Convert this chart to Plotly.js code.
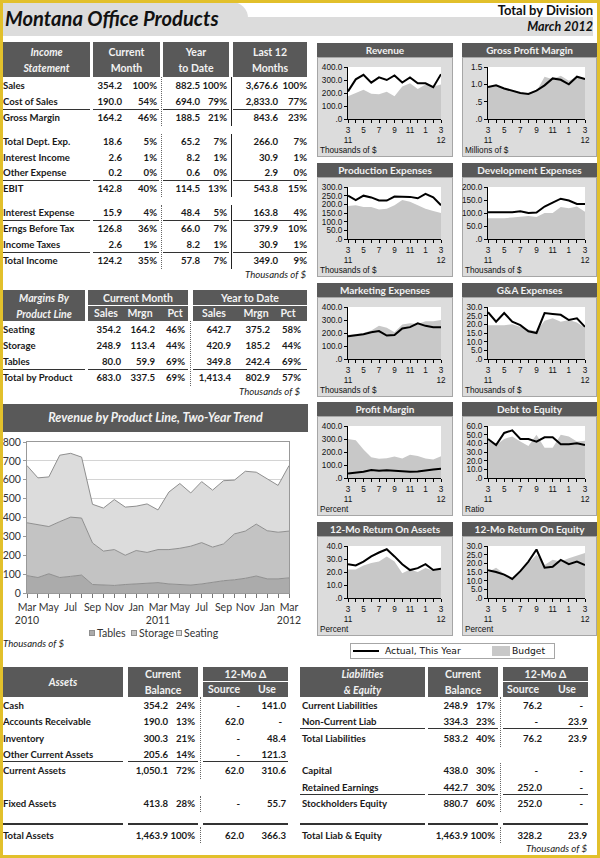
<!DOCTYPE html>
<html><head><meta charset="utf-8">
<script src="https://cdn.plot.ly/plotly-3.0.1.min.js"></script>
<style>
html,body{margin:0;padding:0;background:#fff;}
#page{position:relative;width:600px;height:858px;overflow:hidden;font-family:Lato,'Open Sans',sans-serif;color:#1a1a1a;}
.a{position:absolute;white-space:nowrap;}
.hdr{position:absolute;background:#595959;color:#f2f2f2;font-weight:bold;font-size:10.5px;text-align:center;display:flex;align-items:center;justify-content:center;line-height:16px;white-space:nowrap;}
</style></head><body><div id="page"></div>
<script>
// ---------------- DATA ----------------
const incomeLabels = ["Sales","Cost of Sales","Gross Margin","Total Dept. Exp.","Interest Income","Other Expense","EBIT","Interest Expense","Erngs Before Tax","Income Taxes","Total Income"];
const incomeCM     = [354.2,190.0,164.2,18.6,2.6,0.2,142.8,15.9,126.8,2.6,124.2];
const incomeCMPct  = [100,54,46,5,1,0,40,4,36,1,35];
const incomeYTD    = [882.5,694.0,188.5,65.2,8.2,0.6,114.5,48.4,66.0,8.2,57.8];
const incomeYTDPct = [100,79,21,7,1,0,13,5,7,1,7];
const incomeL12    = [3676.6,2833.0,843.6,266.0,30.9,2.9,543.8,163.8,379.9,30.9,349.0];
const incomeL12Pct = [100,77,23,7,1,0,15,4,10,1,9];

const productLines = ["Seating","Storage","Tables","Total by Product"];
const cmSales = [354.2,248.9,80.0,683.0];
const cmMrgn  = [164.2,113.4,59.9,337.5];
const cmPct   = [46,44,69,69];
const ytdSales = [642.7,420.9,349.8,1413.4];
const ytdMrgn  = [375.2,185.2,242.4,802.9];
const ytdPct   = [58,44,69,57];

const revMonths = ["Mar 2010","Apr 2010","May 2010","Jun 2010","Jul 2010","Aug 2010","Sep 2010","Oct 2010","Nov 2010","Dec 2010","Jan 2011","Feb 2011","Mar 2011","Apr 2011","May 2011","Jun 2011","Jul 2011","Aug 2011","Sep 2011","Oct 2011","Nov 2011","Dec 2011","Jan 2012","Feb 2012","Mar 2012"];
const revTickLabels = ["Mar<br>2010","","May","","Jul","","Sep","","Nov","","Jan","","Mar<br>2011","","May","","Jul","","Sep","","Nov","","Jan","","Mar<br>2012"];
const revTables  = [92,82,102,82,88,95,45,43,40,45,48,52,55,48,45,42,48,58,65,70,78,90,75,75,80];
const revStorage = [280,278,250,296,314,302,220,179,190,155,177,163,175,182,192,206,219,185,195,243,250,275,255,247,248];
const revSeating = [303,250,263,352,338,323,205,228,265,255,235,257,210,305,343,282,323,302,335,285,317,275,275,248,347];

const smallMonths = ["Mar 11","Apr 11","May 11","Jun 11","Jul 11","Aug 11","Sep 11","Oct 11","Nov 11","Dec 11","Jan 12","Feb 12","Mar 12"];
const smallTickLabels = ["3<br>11","","5","","7","","9","","11","","1","","3<br>12"];

const revenueActual = [212,305,340,280,320,300,335,280,320,275,275,245,345];
const revenueBudget = [175,200,225,195,190,210,175,250,275,230,265,250,265];
const gpmActual = [0.92,0.97,0.88,0.82,0.75,0.72,0.82,0.97,1.17,1.13,1.00,1.22,1.15];
const gpmBudget = [0.92,0.97,0.88,0.82,0.75,0.72,0.80,1.22,1.15,1.25,1.10,1.22,1.18];
const prodActual = [250,225,250,240,222,222,245,243,243,235,260,240,195];
const prodBudget = [190,195,185,185,170,175,195,225,215,195,175,162,150];
const devActual = [103,103,103,103,107,100,102,125,140,155,148,135,135];
const devBudget = [80,80,80,83,85,88,85,100,100,123,118,125,105];
const mktActual = [175,180,190,205,215,180,185,235,245,275,255,245,245];
const mktBudget = [185,195,200,220,255,240,205,265,275,270,290,290,300];
const gaActual = [27,21.5,26.5,21.5,19.5,16,15,26.5,26,25.5,22.5,23.5,18.5];
const gaBudget = [19.5,19.5,19.5,20,18.5,17,16,22,23.5,21.5,22.5,21,18];
const pmActual = [35,40,48,62,55,60,55,48,48,50,60,65,72];
const pmBudget = [300,290,220,160,148,152,165,150,178,170,150,142,168];
const deActual = [45,38,52,55,45,45,42,47,47,39,39,40,38];
const deBudget = [43,38,45,48,42,37,50,35,35,50,48,42,43];
const roaActual = [26,25,28,32,35,37.5,32,26,21.5,23,26,21.5,22.5];
const roaBudget = [22,22,25,27,28,32,28,19,22,20,23,21,22];
const roeActual = [16,15,13.5,11,15.5,21,28,17.5,18,22,19.5,21,19];
const roeBudget = [15,17.5,14,11,16,20,25,19,22,21,23,24.5,26];

const smallTitles = ["Revenue","Gross Profit Margin","Production Expenses","Development Expenses","Marketing Expenses","G&A Expenses","Profit Margin","Debt to Equity","12-Mo Return On Assets","12-Mo Return On Equity"];
const smallCaptions = ["Thousands of $","Millions of $","Thousands of $","Thousands of $","Thousands of $","Thousands of $","Percent","Ratio","Percent","Percent"];
const smallActual = [revenueActual,gpmActual,prodActual,devActual,mktActual,gaActual,pmActual,deActual,roaActual,roeActual];
const smallBudget = [revenueBudget,gpmBudget,prodBudget,devBudget,mktBudget,gaBudget,pmBudget,deBudget,roaBudget,roeBudget];
const smallYMax  = [400,1.5,300,200,400,30,400,60,40,30];
const smallYStep = [100,0.5,50,50,100,5,100,10,10,5];

const assetLabels = ["Cash","Accounts Receivable","Inventory","Other Current Assets","Current Assets","Fixed Assets","Total Assets"];
const assetBal = [354.2,190.0,300.3,205.6,1050.1,413.8,1463.9];
const assetPct = [24,13,21,14,72,28,100];
const assetSrc = [null,62.0,null,null,62.0,null,62.0];
const assetUse = [141.0,null,48.4,121.3,310.6,55.7,366.3];

const liabLabels = ["Current Liabilities","Non-Current Liab","Total Liabilities","Capital","Retained Earnings","Stockholders Equity","Total Liab & Equity"];
const liabBal = [248.9,334.3,583.2,438.0,442.7,880.7,1463.9];
const liabPct = [17,23,40,30,30,60,100];
const liabSrc = [76.2,null,76.2,null,252.0,252.0,328.2];
const liabUse = [null,23.9,23.9,null,null,null,23.9];

// ---------------- HELPERS ----------------
const page = document.getElementById('page');
function el(cls, style, html){const d=document.createElement('div');d.className=cls;Object.assign(d.style,style);if(html!=null)d.innerHTML=html;page.appendChild(d);return d;}
function rect(x,y,w,h,bg,extra){return el('a',Object.assign({left:x+'px',top:y+'px',width:w+'px',height:h+'px',background:bg},extra||{}));}
function hbox(x,y,w,h,html,italic,size){return el('hdr',{left:x+'px',top:y+'px',width:w+'px',height:h+'px',fontStyle:italic?'italic':'normal',fontSize:(size||10.5)+'px'},html);}
const FS = 9.6;
function txt(x,yc,html,o){o=o||{};return el('a',{left:x+'px',top:(yc-8)+'px',height:'16px',lineHeight:'16px',fontSize:(o.size||FS)+'px',fontWeight:o.weight||'bold',fontStyle:o.italic?'italic':'normal',color:o.color||'#1a1a1a',fontFamily:o.family||''},html);}
function rtxt(xr,yc,html,o){o=o||{};const w=o.w||90;return el('a',{left:(xr-w)+'px',top:(yc-8)+'px',width:w+'px',textAlign:'right',height:'16px',lineHeight:'16px',fontSize:(o.size||FS)+'px',fontWeight:o.weight||'bold',fontStyle:o.italic?'italic':'normal',color:o.color||'#1a1a1a'},html);}
function hline(x1,x2,y,th,c){rect(x1,y,x2-x1,th||1,c||'#333');}
function segs(list,y,th){list.forEach(s=>hline(s[0],s[1],y,th));}
function vdot(x,y1,y2){el('a',{left:x+'px',top:y1+'px',width:'0px',height:(y2-y1)+'px',borderLeft:'1px dotted #666'});}
function vsolid(x,y1,y2){rect(x,y1,1.5,y2-y1,'#222');}
const f1 = v => v.toLocaleString('en-US',{minimumFractionDigits:1,maximumFractionDigits:1});
function num(xr,yc,v){ if(v==null) rtxt(xr-4,yc,'-'); else rtxt(xr,yc,f1(v)); }
function pc(xr,yc,v){ rtxt(xr,yc,v+'%'); }

// ---------------- HEADER ----------------
rect(3,2,245,34,'#dcdcdc',{borderTopRightRadius:'16px'});
rect(240,17,353,19,'#dcdcdc');
el('a',{left:'5px',top:'5px',fontSize:'20.2px',fontWeight:'bold',fontStyle:'italic',color:'#111',lineHeight:'26px'},'Montana Office Products');
el('a',{right:'7px',top:'2px',fontSize:'13px',fontWeight:'bold',color:'#111',lineHeight:'17px'},'Total by Division');
el('a',{right:'7px',top:'19px',fontSize:'12.5px',fontWeight:'bold',fontStyle:'italic',color:'#111',lineHeight:'16px'},'March 2012');

// ---------------- INCOME STATEMENT ----------------
hbox(3,42,87,35,'Income<br>Statement',true);
hbox(93,42,67,35,'Current<br>Month');
hbox(163,42,66,35,'Year<br>to Date');
hbox(233,42,74,35,'Last 12<br>Months');
const incRowK = [0,1,2,3.5,4.5,5.5,6.5,8,9,10,11];
incomeLabels.forEach((lab,i)=>{
  const y = 86 + 15.9*incRowK[i];
  txt(3,y,lab);
  num(122,y,incomeCM[i]); pc(157,y,incomeCMPct[i]);
  num(200,y,incomeYTD[i]); pc(227,y,incomeYTDPct[i]);
  num(278,y,incomeL12[i]); pc(307,y,incomeL12Pct[i]);
});
const incSegs = [[3,90],[93,159],[163,229],[233,307]];
[1,5,7,9].forEach(i=>segs(incSegs, Math.round(86+15.9*incRowK[i]+7), 1));
[[77,126],[134,197],[205,269]].forEach(g=>{vdot(161,g[0],g[1]);vsolid(230.5,g[0],g[1]);});
rtxt(306,275,'Thousands of $',{italic:true,weight:'normal',w:120});

// ---------------- MARGINS BY PRODUCT LINE ----------------
hbox(3,290,82,31,'Margins By<br>Product Line',true);
hbox(88,290,100,15,'Current Month');
hbox(193,290,114,15,'Year to Date');
hbox(88,306,100,15,'');
hbox(193,306,114,15,'');
[["Sales",106],["Mrgn",140],["Pct",175],["Sales",214],["Mrgn",256],["Pct",288]].forEach(h=>{
  el('a',{left:(h[1]-30)+'px',top:'306px',width:'60px',height:'15px',lineHeight:'15px',textAlign:'center',color:'#f2f2f2',fontWeight:'bold',fontSize:'10.5px'},h[0]);
});
productLines.forEach((lab,i)=>{
  const y = 330 + 16*i;
  txt(3,y,lab);
  num(121,y,cmSales[i]); num(155,y,cmMrgn[i]); pc(185,y,cmPct[i]);
  num(231,y,ytdSales[i]); num(270,y,ytdMrgn[i]); pc(301,y,ytdPct[i]);
});
segs([[3,85],[88,188],[193,307]],369,1);
vdot(190,321,386);
rtxt(300,392,'Thousands of $',{italic:true,weight:'normal',w:120});

// ---------------- REVENUE BY PRODUCT LINE ----------------
hbox(3,404,305,28,'Revenue by Product Line, Two-Year Trend',true,12.5);
const bigDiv = el('a',{left:'3px',top:'433px',width:'305px',height:'217px'});
const fillCols = ['#ababab','#c3c3c3','#dcdcdc'];
const big = [revTables,revStorage,revSeating].map((s,i)=>({
  x: revMonths, y: s, type:'scatter', mode:'lines', stackgroup:'one',
  line:{color:'#8f8f8f',width:1}, fillcolor:fillCols[i], showlegend:false, hoverinfo:'skip'
}));
Plotly.newPlot(bigDiv, big, {
  width:305, height:217, margin:{l:24,r:19,t:9,b:57},
  paper_bgcolor:'rgba(0,0,0,0)', plot_bgcolor:'#fff', showlegend:false,
  font:{family:'Lato, sans-serif', size:10.5, color:'#333'},
  xaxis:{type:'category', range:[0,24], tickmode:'array', tickvals:revMonths, ticktext:revTickLabels, tickangle:0,
         ticks:'outside', ticklen:4, tickcolor:'#777', showline:true, linecolor:'#999', mirror:true, showgrid:false, automargin:false},
  yaxis:{range:[0,800], dtick:100, ticks:'outside', ticklen:3, tickcolor:'#999', showline:true, linecolor:'#999', mirror:true,
         gridcolor:'#d4d4d4', zeroline:false, automargin:false}
}, {staticPlot:true, displayModeBar:false});
// legend for the stacked areas
[["Tables",89,0],["Storage",131,1],["Seating",176,2]].forEach(l=>{
  rect(l[1],630,6,6,fillCols[l[2]],{border:'1px solid #8f8f8f',boxSizing:'border-box'});
  el('a',{left:(l[1]+8)+'px',top:'626px',fontSize:'10.5px',lineHeight:'14px',color:'#333'},l[0]);
});
txt(3,644,'Thousands of $',{italic:true,weight:'normal'});

// ---------------- SMALL CHARTS ----------------
function tickText(v){ let s=v.toFixed(1); if(s.startsWith('0.')) s=s.slice(1); return s; }
smallTitles.forEach((title,i)=>{
  const col=i%2, row=Math.floor(i/2);
  const px = col?462:317, pw = col?135:136;
  const top = Math.round(43 + row*119.8);
  hbox(px,top,pw,14,title,false,10);
  rect(px,top+14,pw,100,'#dcdcdc',{border:'1px solid #a6a6a6',boxSizing:'border-box'});
  const d = el('a',{left:px+'px',top:(top+14)+'px',width:pw+'px',height:'100px'});
  const tv=[]; for(let v=0; v<=smallYMax[i]+1e-9; v+=smallYStep[i]) tv.push(+v.toFixed(2));
  Plotly.newPlot(d, [
    {x:smallMonths, y:smallBudget[i], type:'scatter', mode:'lines', fill:'tozeroy', fillcolor:'#c8c8c8', line:{width:0,color:'#c8c8c8'}, hoverinfo:'skip'},
    {x:smallMonths, y:smallActual[i], type:'scatter', mode:'lines', line:{color:'#000',width:2}, hoverinfo:'skip'}
  ], {
    width:pw, height:100, margin:{l:col?26:31, r:12, t:10, b:38},
    paper_bgcolor:'rgba(0,0,0,0)', plot_bgcolor:'#fff', showlegend:false,
    font:{family:'Liberation Sans, Arial, sans-serif', size:8.2, color:'#111'},
    xaxis:{type:'category', range:[0,12], tickmode:'array', tickvals:smallMonths, ticktext:smallTickLabels, tickangle:0,
           ticks:'outside', ticklen:3, tickcolor:'#000', showline:true, linecolor:'#000', linewidth:1, showgrid:false, automargin:false, ticklabelstandoff:0},
    yaxis:{range:[0,smallYMax[i]], tickmode:'array', tickvals:tv, ticktext:tv.map(tickText), ticks:'outside', ticklen:3, tickcolor:'#000',
           showline:true, linecolor:'#000', linewidth:1, showgrid:false, zeroline:false, automargin:false}
  }, {staticPlot:true, displayModeBar:false});
  el('a',{left:(px+3)+'px',top:(top+14+89)+'px',fontSize:'8.2px',lineHeight:'10px',color:'#111',fontFamily:'Liberation Sans, Arial, sans-serif'},smallCaptions[i]);
});
// small charts legend
rect(350,643,205,16,'#fff',{border:'1px solid #a6a6a6',boxSizing:'border-box'});
rect(353,650,26,2.2,'#000');
el('a',{left:'385px',top:'645px',fontSize:'9.2px',lineHeight:'12px',fontFamily:'DejaVu Sans, sans-serif',color:'#111'},'Actual, This Year');
rect(492,646,18,10,'#c8c8c8');
el('a',{left:'512px',top:'645px',fontSize:'9.2px',lineHeight:'12px',fontFamily:'DejaVu Sans, sans-serif',color:'#111'},'Budget');

// ---------------- ASSETS ----------------
const balK = [0,1,2,3,4,6,8];
hbox(3,667,120,30,'Assets',true);
hbox(128,667,70,30,'Current<br>Balance');
hbox(203,667,85,14,'12-Mo &Delta;');
hbox(203,682,85,15,'');
el('a',{left:'194px',top:'682px',width:'60px',height:'15px',lineHeight:'15px',textAlign:'center',color:'#f2f2f2',fontWeight:'bold',fontSize:'10.5px'},'Source');
el('a',{left:'237px',top:'682px',width:'60px',height:'15px',lineHeight:'15px',textAlign:'center',color:'#f2f2f2',fontWeight:'bold',fontSize:'10.5px'},'Use');
assetLabels.forEach((lab,i)=>{
  const y = 706 + 16.3*balK[i];
  txt(3,y,lab);
  num(168,y,assetBal[i]); pc(195,y,assetPct[i]);
  num(244,y,assetSrc[i]); num(286,y,assetUse[i]);
});
segs([[3,123],[128,198],[203,288]],761,1);
segs([[3,123],[128,198],[203,288]],823,2);
[[697,779],[796,812],[827,843]].forEach(g=>vdot(200,g[0],g[1]));

// ---------------- LIABILITIES ----------------
const liabK = [0,1,2,4,5,6,8];
hbox(300,667,125,30,'Liabilities<br>&amp; Equity',true);
hbox(428,667,70,30,'Current<br>Balance');
hbox(503,667,85,14,'12-Mo &Delta;');
hbox(503,682,85,15,'');
el('a',{left:'493px',top:'682px',width:'60px',height:'15px',lineHeight:'15px',textAlign:'center',color:'#f2f2f2',fontWeight:'bold',fontSize:'10.5px'},'Source');
el('a',{left:'537px',top:'682px',width:'60px',height:'15px',lineHeight:'15px',textAlign:'center',color:'#f2f2f2',fontWeight:'bold',fontSize:'10.5px'},'Use');
liabLabels.forEach((lab,i)=>{
  const y = 706 + 16.3*liabK[i];
  txt(302,y,lab);
  num(468,y,liabBal[i]); pc(495,y,liabPct[i]);
  num(542,y,liabSrc[i]); num(587,y,liabUse[i]);
});
segs([[300,425],[428,498],[503,588]],728,1);
segs([[300,425],[428,498],[503,588]],794,1);
segs([[300,425],[428,498],[503,588]],823,2);
[[697,747],[763,812],[827,843]].forEach(g=>vdot(500,g[0],g[1]));
rtxt(587,849,'Thousands of $',{italic:true,weight:'normal',w:120});

// ---------------- FRAME ----------------
el('a',{left:'0px',top:'0px',width:'600px',height:'858px',border:'3px solid #e2c02b',boxSizing:'border-box',pointerEvents:'none',zIndex:50});
</script></body></html>
